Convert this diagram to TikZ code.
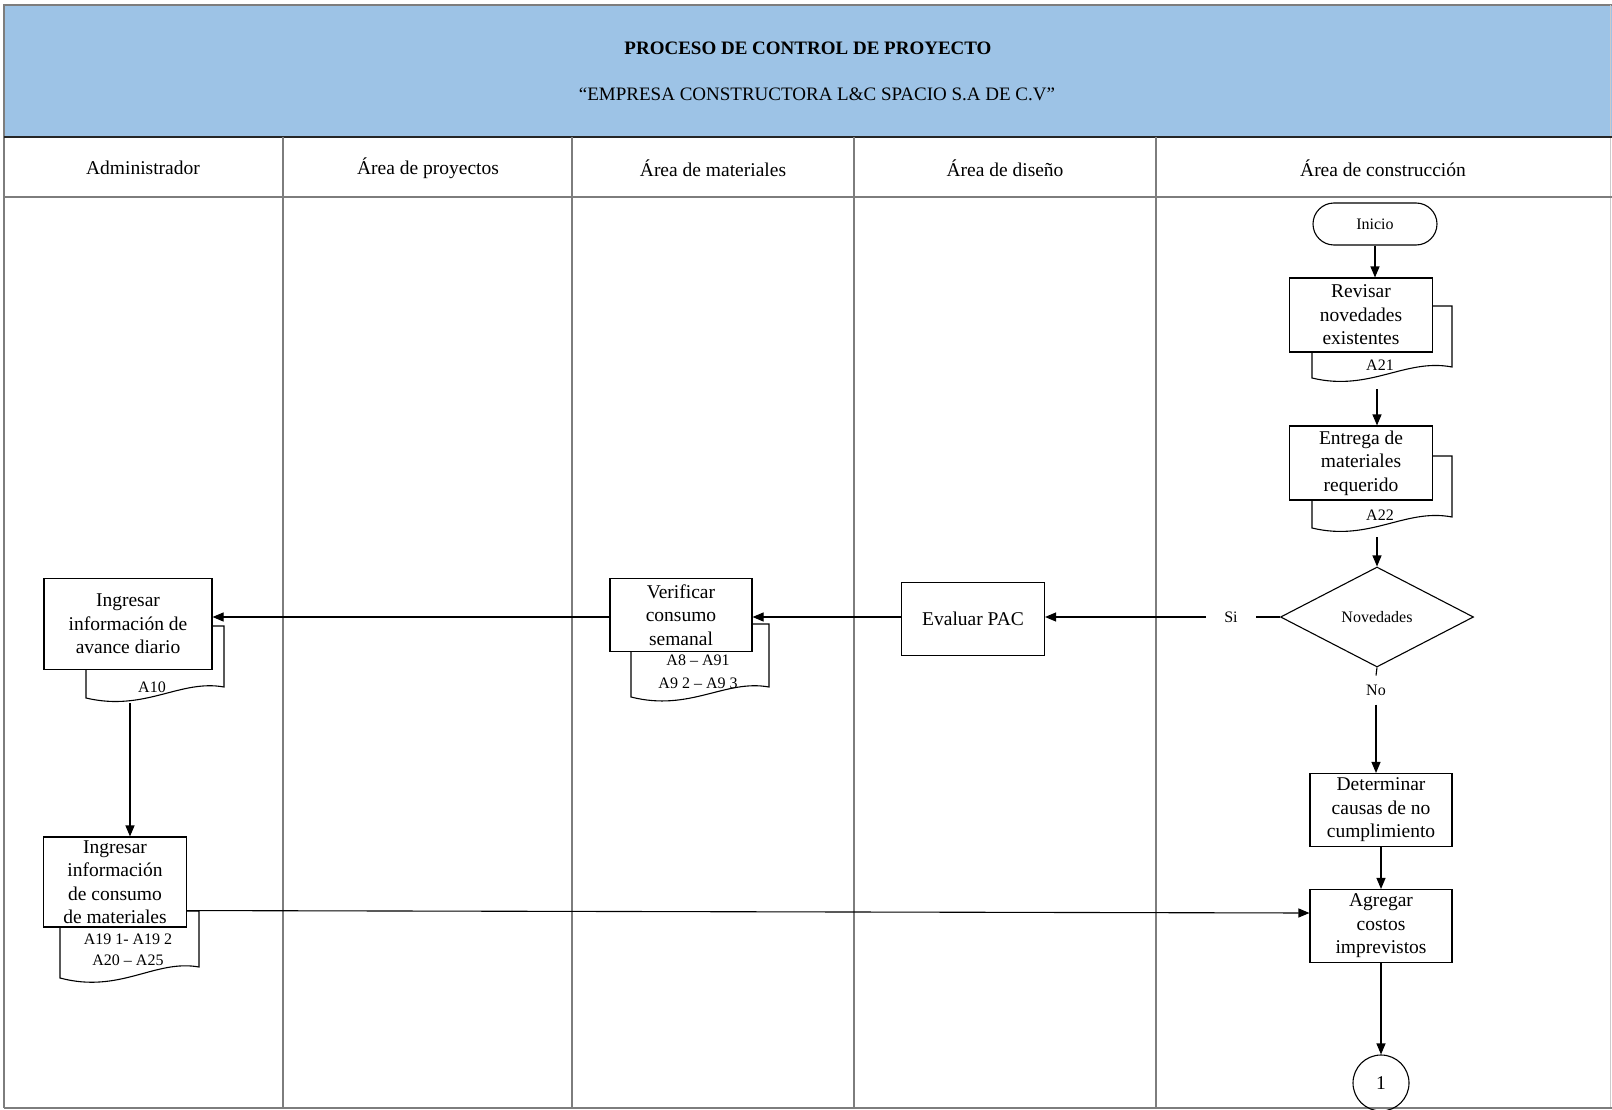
\documentclass[tikz,border=0pt]{standalone}
\usepackage{fontspec}
\setmainfont{Liberation Serif}
\usetikzlibrary{arrows.meta,shapes.geometric,positioning}
\definecolor{bandblue}{RGB}{157,195,230}
\definecolor{framegray}{RGB}{125,125,125}
\newcommand{\bodyfnt}{\fontsize{19.5}{23.5}\selectfont}
\newcommand{\smallfnt}{\fontsize{16}{22.5}\selectfont}
\tikzset{
  proc/.style={draw,fill=white,line width=1.1pt,align=center,inner sep=0pt,font=\bodyfnt},
  docpage/.style={draw,fill=white,line width=1.1pt},
  doctext/.style={font=\smallfnt,inner sep=0pt},
  lanetitle/.style={font=\bodyfnt},
  arr/.style={line width=1.1pt,-{Triangle[length=11pt,width=9pt]}},
  link/.style={line width=1.1pt},
}

\begin{document}
\begin{tikzpicture}[x=1pt,y=-1pt]
      \useasboundingbox (0,0) rectangle (1612,1110);
      % header band and frame
      \fill[bandblue] (5,5) rectangle (1612,137);
      \draw[framegray,line width=2pt] (4,1108) -- (4,5) -- (1612,5);
      \draw[framegray!40,line width=1pt] (1610,5) -- (1610,1108);
      \draw[framegray,line width=2pt] (4,1108) -- (1612,1108);
      \draw[black!85,line width=1.3pt] (4,137) -- (1612,137);
      \draw[framegray,line width=2.5pt] (4,197) -- (1612,197);
      \foreach \x in {283,572,854,1156}
        \draw[framegray,line width=1.6pt] (\x,137) -- (\x,1108);
      \node[font=\bfseries\fontsize{19}{23}\selectfont] (title) at (808,48) {PROCESO DE CONTROL DE PROYECTO};
      \node[font=\fontsize{19}{23}\selectfont] (subtitle) at (817,94) {``EMPRESA CONSTRUCTORA L\&C SPACIO S.A DE C.V''};
      % lane names
      \node[lanetitle] (admin) at (143,168) {Administrador};
      \node[lanetitle] (proy) at (428,168) {Área de proyectos};
      \node[lanetitle] (mater) at (713,168) {Área de materiales};
      \node[lanetitle] (disen) at (1005,168) {Área de diseño};
      \node[lanetitle] (constr) at (1383,168) {Área de construcción};
      % Area de construccion
      \node[proc,rounded corners=21pt,minimum width=124pt,minimum height=42pt,font=\smallfnt] (inicio) at (1375,224) {Inicio};
      \draw[docpage] (1312,306) -- (1452,306) -- (1452,367) .. controls (1405,358) and (1370,392) .. (1312,378) -- cycle;
      \node[proc,minimum width=143pt,minimum height=74pt] (rev) at (1361,315) {Revisar\\novedades\\existentes};
      \node[doctext] (a21) at (1380,365) {A21};
      \coordinate (revout) at (1377,389);
      \draw[docpage] (1312,456) -- (1452,456) -- (1452,517) .. controls (1405,508) and (1370,542) .. (1312,528) -- cycle;
      \node[proc,minimum width=143pt,minimum height=74pt] (ent) at (1361,463) {Entrega de\\materiales\\requerido};
      \node[doctext] (a22) at (1380,515) {A22};
      \coordinate (entout) at (1377,537);
      \node[draw,diamond,line width=1.1pt,minimum width=193pt,minimum height=100pt,inner sep=0pt,font=\smallfnt] (nov) at (1377,617) {Novedades};
      \node[font=\smallfnt,inner xsep=18pt] (si) at (1231,617) {Si};
      \node[font=\smallfnt,inner ysep=9pt] (no) at (1376,690) {No};
      \node[proc,minimum width=142pt,minimum height=73pt] (det) at (1381,810) {Determinar\\causas de no\\cumplimiento};
      \node[proc,minimum width=142pt,minimum height=73pt] (agr) at (1381,926) {Agregar\\costos\\imprevistos};
      \node[draw,circle,line width=1.1pt,minimum size=56pt,inner sep=0pt,font=\bodyfnt] (conn) at (1381,1083) {1};
      % Area de diseno
      \node[proc,minimum width=143pt,minimum height=73pt] (eval) at (973,619) {Evaluar PAC};
      % Area de materiales
      \draw[docpage] (631,624) -- (769,624) -- (769,687) .. controls (725,679) and (690,712) .. (631,697) -- cycle;
      \node[proc,minimum width=142pt,minimum height=73pt] (ver) at (681,615) {Verificar\\consumo\\semanal};
      \node[doctext] (a8) at (698,660) {A8 -- A91};
      \node[doctext] (a9) at (698,683) {A9 2 -- A9 3};
      % Administrador
      \draw[docpage] (86,626) -- (224,626) -- (224,687) .. controls (180,679) and (145,712) .. (86,698) -- cycle;
      \node[proc,minimum width=168pt,minimum height=91pt] (avance) at (128,624) {Ingresar\\información de\\avance diario};
      \node[doctext] (a10) at (152,687) {A10};
      \coordinate (avout) at (130,703);
      \draw[docpage] (60,911) -- (199,911) -- (199,967) .. controls (155,959) and (120,994) .. (60,978) -- cycle;
      \node[proc,minimum width=143pt,minimum height=90pt] (cons) at (115,882) {Ingresar\\información\\de consumo\\de materiales};
      \node[doctext] (a19) at (128,939) {A19 1- A19 2};
      \node[doctext] (a20) at (128,960) {A20 -- A25};
      % connectors
      \draw[arr] (inicio.south) -- (inicio.south |- rev.north);
      \draw[arr] (revout) -- (revout |- ent.north);
      \draw[arr] (entout) -- (nov.north);
      \draw[link] (nov.west) -- (si.east);
      \draw[arr] (si.west) -- (si.west -| eval.east);
      \draw[link] (nov.south) -- (no.north);
      \draw[arr] (no.south) -- (no.south |- det.north);
      \draw[arr] (det.south) -- (agr.north);
      \draw[arr] (agr.south) -- (conn.north);
      \draw[arr] (eval.west |- si) -- (ver.east |- si);
      \draw[arr] (ver.west |- si) -- (avance.east |- si);
      \draw[arr] (avout) -- (avout |- cons.north);
      \draw[arr] ([yshift=17pt]cons.south east) -- ([yshift=13pt]agr.west);
\end{tikzpicture}
\end{document}
